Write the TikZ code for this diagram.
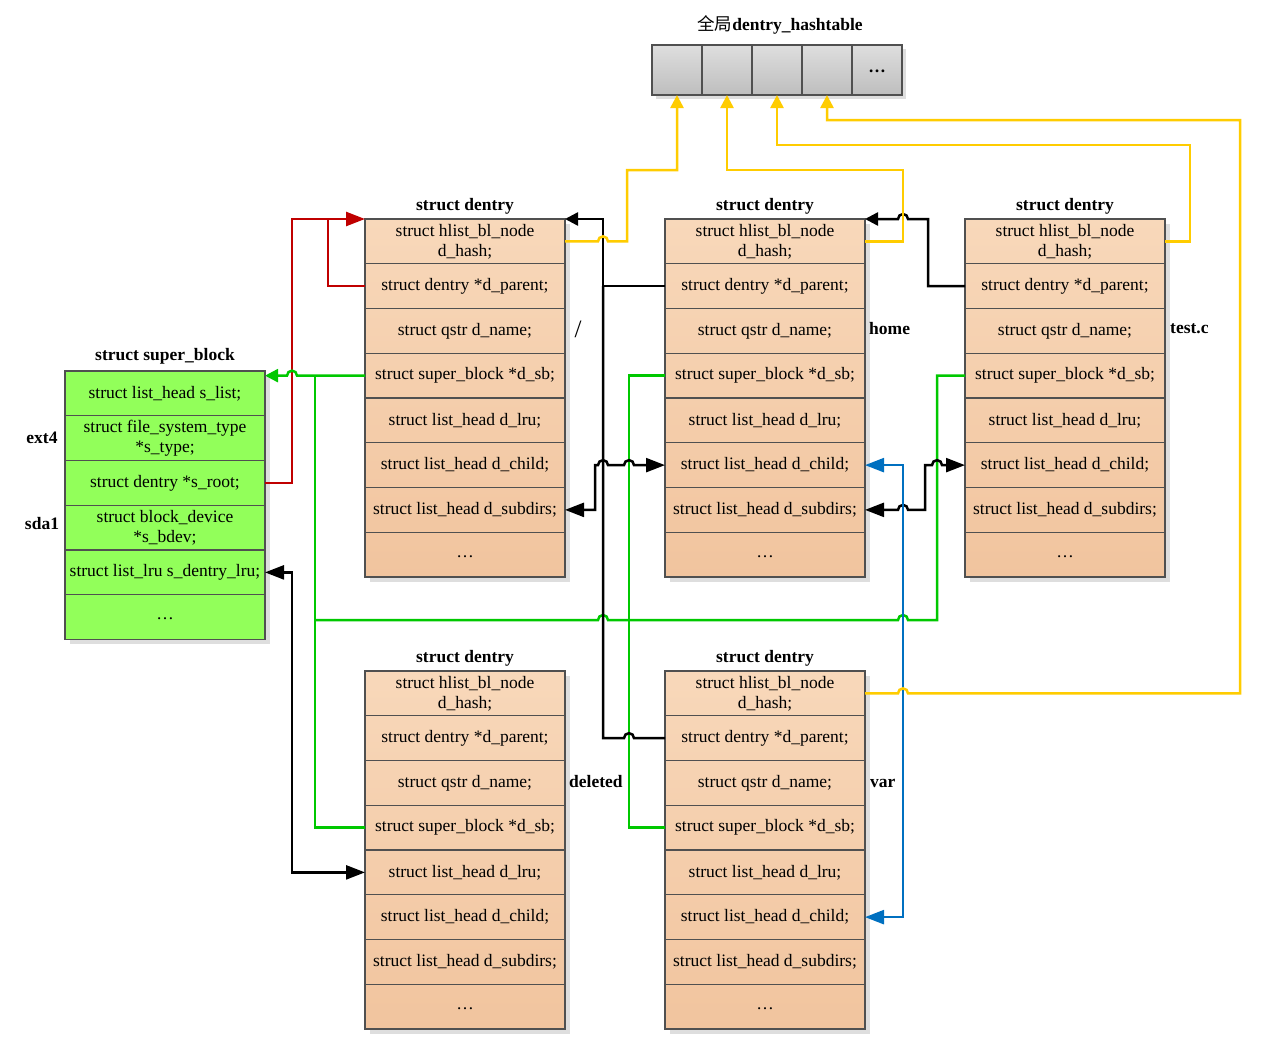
\documentclass[tikz,border=0pt]{standalone}
\usepackage{fontspec}
\setmainfont{Liberation Serif}
\newfontfamily\cjk{Noto Sans CJK SC}
\usetikzlibrary{arrows.meta}
\definecolor{dtop}{RGB}{248,216,186}
\definecolor{dbot}{RGB}{241,196,158}
\definecolor{sbg}{RGB}{146,255,90}
\definecolor{edgec}{RGB}{80,80,80}
\definecolor{cred}{RGB}{192,0,0}
\definecolor{cgrn}{RGB}{0,200,0}
\definecolor{cyel}{RGB}{255,204,0}
\definecolor{cblu}{RGB}{0,112,192}
\definecolor{htop}{RGB}{222,222,222}
\definecolor{hbot}{RGB}{190,190,190}
\newcommand\lowdots{\raisebox{-5pt}{…}}
\tikzset{
  every node/.style={font=\fontsize{17.5}{20}\selectfont},
  drow/.style={draw=edgec, line width=1.3pt, minimum width=200pt, minimum height=44.75pt,
    inner sep=0pt, outer sep=0pt, align=center, anchor=north west},
  sbrow/.style={drow, fill=sbg},
  ttl/.style={font=\fontsize{17.5}{20}\selectfont\bfseries},
  lbl/.style={font=\fontsize{17.5}{20}\selectfont\bfseries, anchor=west, inner sep=0pt},
  hcell/.style={draw=edgec, line width=1.3pt, minimum width=50pt, minimum height=50pt,
    inner sep=0pt, outer sep=0pt, top color=htop, bottom color=hbot},
  conn/.style={line width=2.5pt},
  arrbig/.style={-{Triangle[length=19pt,width=14pt]}},
  arrsm/.style={-{Triangle[length=13pt,width=13pt]}},
  darr/.style={{Triangle[length=19pt,width=14pt]}-{Triangle[length=19pt,width=14pt]}},
}
\newcommand\dentrybox[3]{%
  \fill[black!13] (#2+5,#3+5) rectangle (#2+205,#3+363);
  \shade[top color=dtop,bottom color=dbot] (#2,#3) rectangle (#2+200,#3+358);
  \node[ttl] (#1-t) at (#2+100,#3-13) {struct dentry};
  \node[drow] (#1-1) at (#2,#3) {struct hlist\_bl\_node\\d\_hash;};
  \node[drow] (#1-2) at (#1-1.south west) {struct dentry *d\_parent;};
  \node[drow] (#1-3) at (#1-2.south west) {struct qstr d\_name;};
  \node[drow] (#1-4) at (#1-3.south west) {struct super\_block *d\_sb;};
  \node[drow] (#1-5) at (#1-4.south west) {struct list\_head d\_lru;};
  \node[drow] (#1-6) at (#1-5.south west) {struct list\_head d\_child;};
  \node[drow] (#1-7) at (#1-6.south west) {struct list\_head d\_subdirs;};
  \node[drow] (#1-8) at (#1-7.south west) {\lowdots};
}
\begin{document}
\begin{tikzpicture}[x=1pt,y=-1pt]
\useasboundingbox[fill=white] (0,0) rectangle (1274,1060);

% hashtable
\node[font=\fontsize{17.5}{20}\selectfont] (httl) at (780,25) {{\cjk 全局}\textbf{dentry\_hashtable}};
\fill[black!13] (656,49) rectangle (906,99);
\node[hcell] (ht-1) at (677,70) {};
\node[hcell] (ht-2) at (727,70) {};
\node[hcell] (ht-3) at (777,70) {};
\node[hcell] (ht-4) at (827,70) {};
\node[hcell] (ht-5) at (877,70) {\textbf{\lowdots}};

% dentries
\dentrybox{d1}{365}{219}
\dentrybox{d2}{665}{219}
\dentrybox{d3}{965}{219}
\dentrybox{d4}{365}{671}
\dentrybox{d5}{665}{671}

\node[font=\fontsize{25}{25}\selectfont] (l1) at (578,329) {/};
\node[lbl] (l2) at (869,329) {home};
\node[lbl] (l3) at (1170,329) {test.c};
\node[lbl] (l4) at (569,782) {deleted};
\node[lbl] (l5) at (870,783) {var};

% super block
\fill[black!13] (70,376) rectangle (270,644);
\node[ttl] (sb-t) at (165,356) {struct super\_block};
\node[sbrow] (sb-1) at (65,371) {struct list\_head s\_list;};
\node[sbrow] (sb-2) at (sb-1.south west) {struct file\_system\_type\\*s\_type;};
\node[sbrow] (sb-3) at (sb-2.south west) {struct dentry *s\_root;};
\node[sbrow] (sb-4) at (sb-3.south west) {struct block\_device\\*s\_bdev;};
\node[sbrow] (sb-5) at (sb-4.south west) {struct list\_lru s\_dentry\_lru;};
\node[sbrow] (sb-6) at (sb-5.south west) {\lowdots};
\node[lbl, anchor=center] (ext) at (42,438) {ext4};
\node[lbl, anchor=center] (sda) at (42,524) {sda1};

% red
\draw[conn, cred, arrbig] (sb-3.east) -- (292,482.875) -- (292,219) -- (d1-1.north west);
\draw[conn, cred] (d1-2.west) -- (328,286.125) -- (328,219);

% green
\draw[conn, cgrn] (d4-4.west) -- (315,827.625) -- (315,375.625);
\draw[conn, cgrn, arrsm] (d1-4.west) -- (297,375.625) arc[start angle=0,end angle=180,radius=5pt] -- (sb-1.east |- d1-4.west);
\draw[conn, cgrn] (d3-4.west) -- (937,375.625) -- (937,620) -- (908,620)
  arc[start angle=0,end angle=180,radius=5pt] -- (608,620)
  arc[start angle=0,end angle=180,radius=5pt] -- (315,620);
\draw[conn, cgrn] (d2-4.west) -- (629,375.625) -- (629,827.625) -- (d5-4.west);

% black
\draw[conn, arrsm] (d2-2.west) -- (603,286.125) -- (603,219) -- (d1-1.north east);
\draw[conn] (d5-2.west) -- (634,738.125) arc[start angle=0,end angle=180,radius=5pt] -- (603,738.125) -- (603,286.125);
\draw[conn, arrsm] (d3-2.west) -- (928,286.125) -- (928,219) -- (908,219)
  arc[start angle=0,end angle=180,radius=5pt] -- (d2-1.north east);
\draw[conn, darr] (d1-7.east) -- (595,509.875) -- (595,465.125) -- (598,465.125)
  arc[start angle=180,end angle=0,radius=5pt] -- (624,465.125)
  arc[start angle=180,end angle=0,radius=5pt] -- (d2-6.west);
\draw[conn, darr] (d2-7.east) -- (898,509.875)
  arc[start angle=180,end angle=0,radius=5pt] -- (925,509.875) -- (925,465.125) -- (932,465.125)
  arc[start angle=180,end angle=0,radius=5pt] -- (d3-6.west);
\draw[conn, darr] (sb-5.east) -- (292,572.375) -- (292,872.375) -- (d4-5.west);

% blue
\draw[conn, cblu, darr] (d2-6.east) -- (903,465.125) -- (903,917.125) -- (d5-6.east);

% yellow
\draw[conn, cyel, arrsm] (d1-1.east) -- (598,241.375)
  arc[start angle=180,end angle=0,radius=5pt] -- (627,241.375) -- (627,170) -- (677,170) -- (ht-1.south);
\draw[conn, cyel, arrsm] (d2-1.east) -- (903,241.375) -- (903,170) -- (727,170) -- (ht-2.south);
\draw[conn, cyel, arrsm] (d3-1.east) -- (1190,241.375) -- (1190,145) -- (777,145) -- (ht-3.south);
\draw[conn, cyel, arrsm] (d5-1.east) -- (898,693.375)
  arc[start angle=180,end angle=0,radius=5pt] -- (1240,693.375) -- (1240,120) -- (827,120) -- (ht-4.south);
\end{tikzpicture}
\end{document}
